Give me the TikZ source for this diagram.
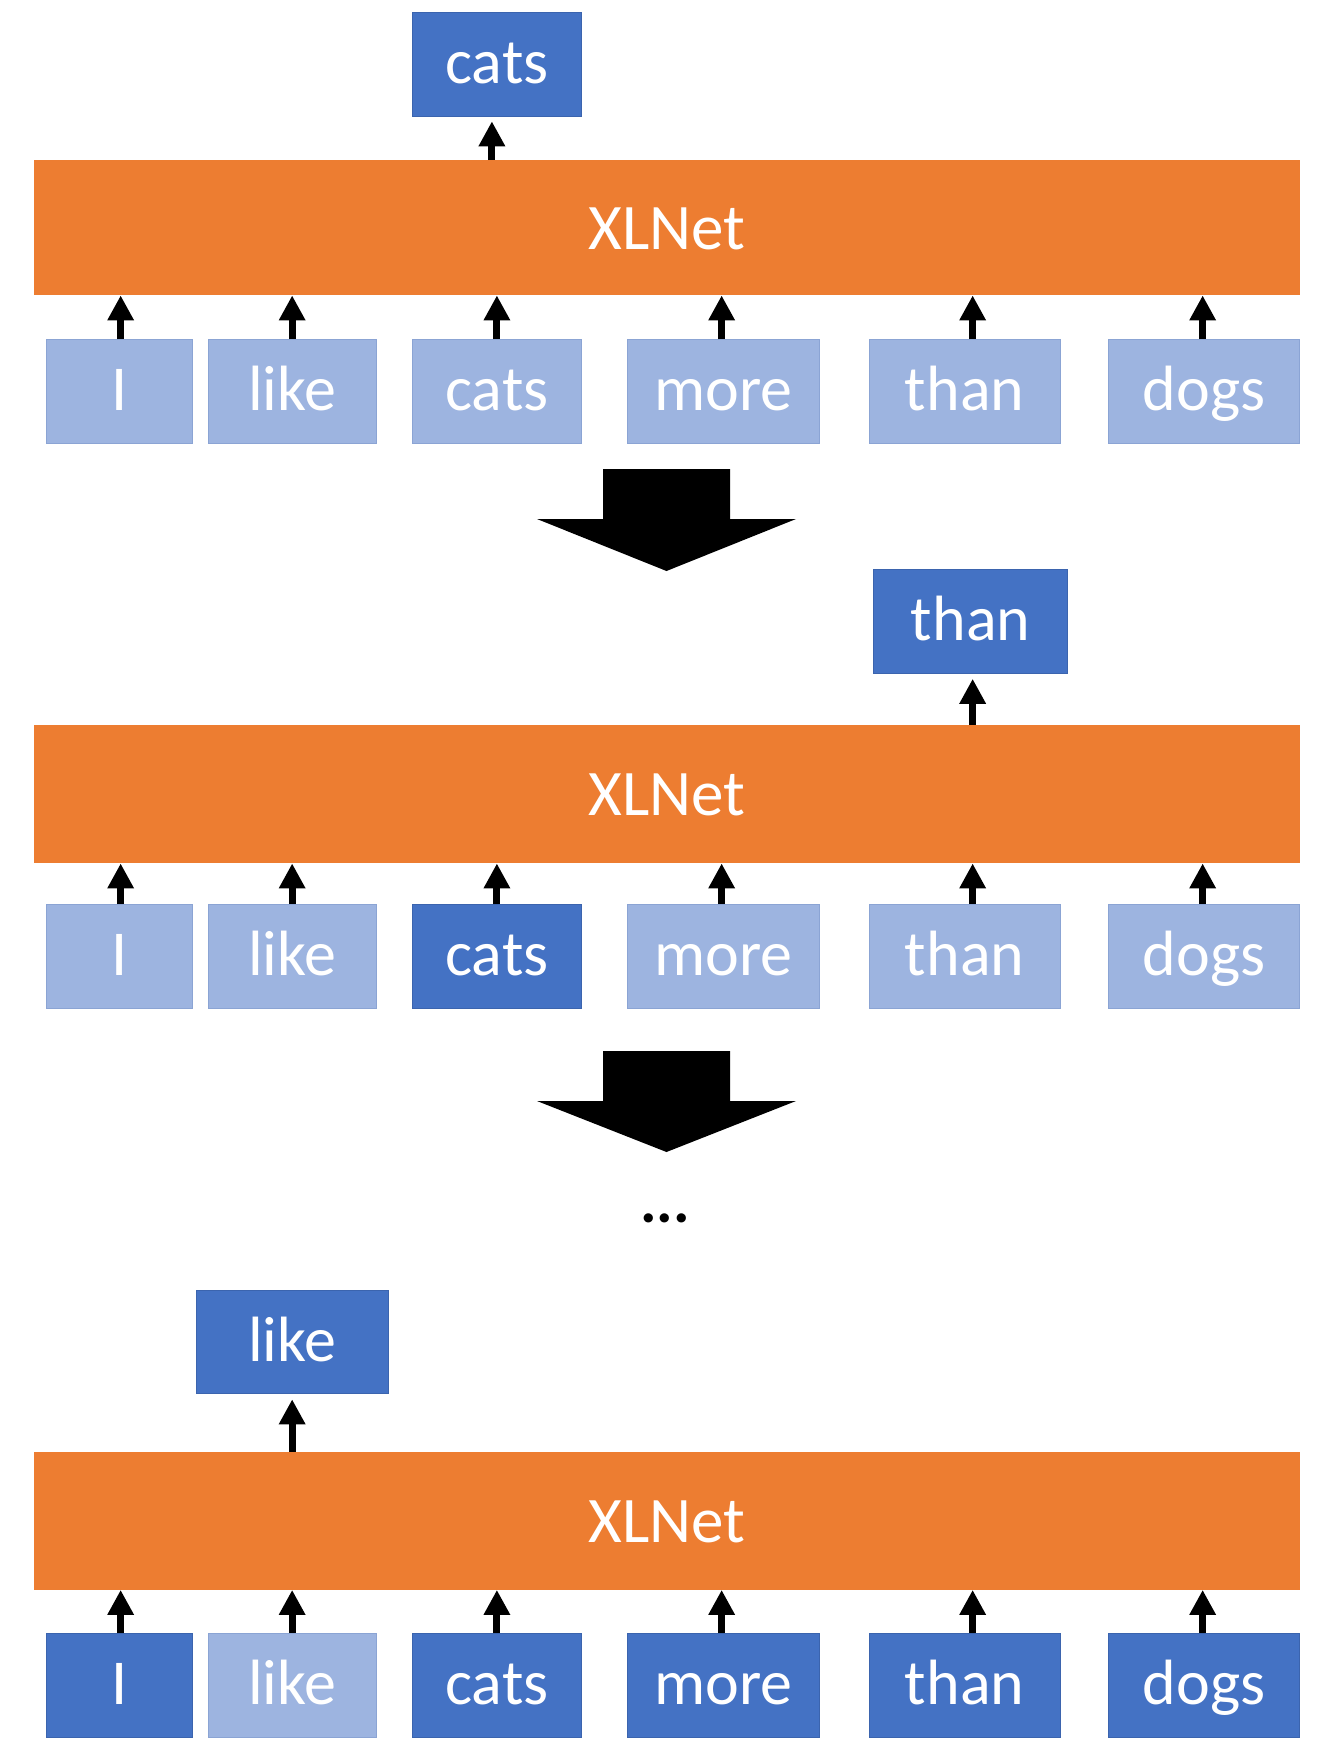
\documentclass[tikz,border=0pt]{standalone}
\usepackage{fontspec}
\setmainfont{Carlito}
\usetikzlibrary{arrows.meta,calc}
\definecolor{xorange}{HTML}{ED7D31}
\definecolor{dkblue}{HTML}{4472C4}
\definecolor{dkborder}{HTML}{3B64AE}
\definecolor{ltblue}{HTML}{9DB4E0}
\definecolor{ltborder}{HTML}{8BA4D4}
\tikzset{
  tok/.style={rectangle, inner sep=0pt, anchor=north west, minimum height=103.5pt,
    text height=38.5pt, text depth=0pt, text=white, line width=1.3pt,
    font=\fontsize{64pt}{68pt}\selectfont},
  light/.style={fill=ltblue, draw=ltborder},
  dark/.style={fill=dkblue, draw=dkborder},
  model/.style={rectangle, inner sep=0pt, anchor=north west, fill=xorange,
    minimum width=1266.5pt, text height=43pt, text depth=0pt, text=white,
    font=\fontsize{65pt}{69pt}\selectfont},
  uparrow/.style={line width=7pt, -{Triangle[width=25pt,length=25pt]}},
  bigarrow/.style={fill=black}
}
\begin{document}
\begin{tikzpicture}[x=1pt,y=-1pt]
\path[use as bounding box, fill=white] (0,0) rectangle (1336,1762);

% ---------- Section 1 ----------
\node[model, minimum height=135pt] (m1) at (33.5,160) {XLNet};
\node[tok, dark, minimum width=169.5pt, minimum height=104pt] (o1) at (411.5,12) {cats};
\node[tok, light, minimum width=146pt]   (a1) at (45.5,339)  {I};
\node[tok, light, minimum width=168pt]   (a2) at (207.5,339) {like};
\node[tok, light, minimum width=169.5pt] (a3) at (411.5,339) {cats};
\node[tok, light, minimum width=192pt]   (a4) at (627,339)   {more};
\node[tok, light, minimum width=191pt]   (a5) at (868.5,339) {than};
\node[tok, light, minimum width=191pt]   (a6) at (1108,339)  {dogs};
\draw[uparrow] ([xshift=-5pt]o1.south |- m1.north) -- ([xshift=-5pt,yshift=-4pt]o1.south);
\draw[uparrow] ([xshift=1.5pt]a1.north) -- ([xshift=1.5pt]a1.north |- m1.south);
\draw[uparrow] (a2.north) -- (a2.north |- m1.south);
\draw[uparrow] (a3.north) -- (a3.north |- m1.south);
\draw[uparrow] ([xshift=-2pt]a4.north) -- ([xshift=-2pt]a4.north |- m1.south);
\draw[uparrow] ([xshift=8pt]a5.north) -- ([xshift=8pt]a5.north |- m1.south);
\draw[uparrow] ([xshift=-1.5pt]a6.north) -- ([xshift=-1.5pt]a6.north |- m1.south);

% big arrow 1
\fill[bigarrow] (603,469) -- (730,469) -- (730,519) -- (796,519) -- (666.5,571)
  -- (537,519) -- (603,519) -- cycle;

% ---------- Section 2 ----------
\node[model, minimum height=138pt] (m2) at (33.5,725) {XLNet};
\node[tok, dark, minimum width=194pt] (o2) at (873,569) {than};
\node[tok, light, minimum width=146pt]   (b1) at (45.5,904)  {I};
\node[tok, light, minimum width=168pt]   (b2) at (207.5,904) {like};
\node[tok, dark,  minimum width=169.5pt] (b3) at (411.5,904) {cats};
\node[tok, light, minimum width=192pt]   (b4) at (627,904)   {more};
\node[tok, light, minimum width=191pt]   (b5) at (868.5,904) {than};
\node[tok, light, minimum width=191pt]   (b6) at (1108,904)  {dogs};
\draw[uparrow] ([xshift=2pt]o2.south |- m2.north) -- ([xshift=2pt,yshift=-5pt]o2.south);
\draw[uparrow] ([xshift=1.5pt]b1.north) -- ([xshift=1.5pt]b1.north |- m2.south);
\draw[uparrow] (b2.north) -- (b2.north |- m2.south);
\draw[uparrow] (b3.north) -- (b3.north |- m2.south);
\draw[uparrow] ([xshift=-2pt]b4.north) -- ([xshift=-2pt]b4.north |- m2.south);
\draw[uparrow] ([xshift=8pt]b5.north) -- ([xshift=8pt]b5.north |- m2.south);
\draw[uparrow] ([xshift=-1.5pt]b6.north) -- ([xshift=-1.5pt]b6.north |- m2.south);

% big arrow 2
\fill[bigarrow] (603,1051) -- (730,1051) -- (730,1101) -- (796,1101) -- (666.5,1152)
  -- (537,1101) -- (603,1101) -- cycle;

\node[anchor=base, inner sep=0pt, font=\bfseries\fontsize{62pt}{66pt}\selectfont] (dots) at (665,1222) {...};

% ---------- Section 3 ----------
\node[model, minimum height=138pt] (m3) at (33.5,1451.5) {XLNet};
\node[tok, dark, minimum width=192pt] (o3) at (195.5,1289.5) {like};
\node[tok, dark,  minimum width=146pt]   (c1) at (45.5,1633)  {I};
\node[tok, light, minimum width=168pt]   (c2) at (207.5,1633) {like};
\node[tok, dark,  minimum width=169.5pt] (c3) at (411.5,1633) {cats};
\node[tok, dark,  minimum width=192pt]   (c4) at (627,1633)   {more};
\node[tok, dark,  minimum width=191pt]   (c5) at (868.5,1633) {than};
\node[tok, dark,  minimum width=191pt]   (c6) at (1108,1633)  {dogs};
\draw[uparrow] (o3.south |- m3.north) -- ([yshift=-5pt]o3.south);
\draw[uparrow] ([xshift=1.5pt]c1.north) -- ([xshift=1.5pt]c1.north |- m3.south);
\draw[uparrow] (c2.north) -- (c2.north |- m3.south);
\draw[uparrow] (c3.north) -- (c3.north |- m3.south);
\draw[uparrow] ([xshift=-2pt]c4.north) -- ([xshift=-2pt]c4.north |- m3.south);
\draw[uparrow] ([xshift=8pt]c5.north) -- ([xshift=8pt]c5.north |- m3.south);
\draw[uparrow] ([xshift=-1.5pt]c6.north) -- ([xshift=-1.5pt]c6.north |- m3.south);
\end{tikzpicture}
\end{document}
